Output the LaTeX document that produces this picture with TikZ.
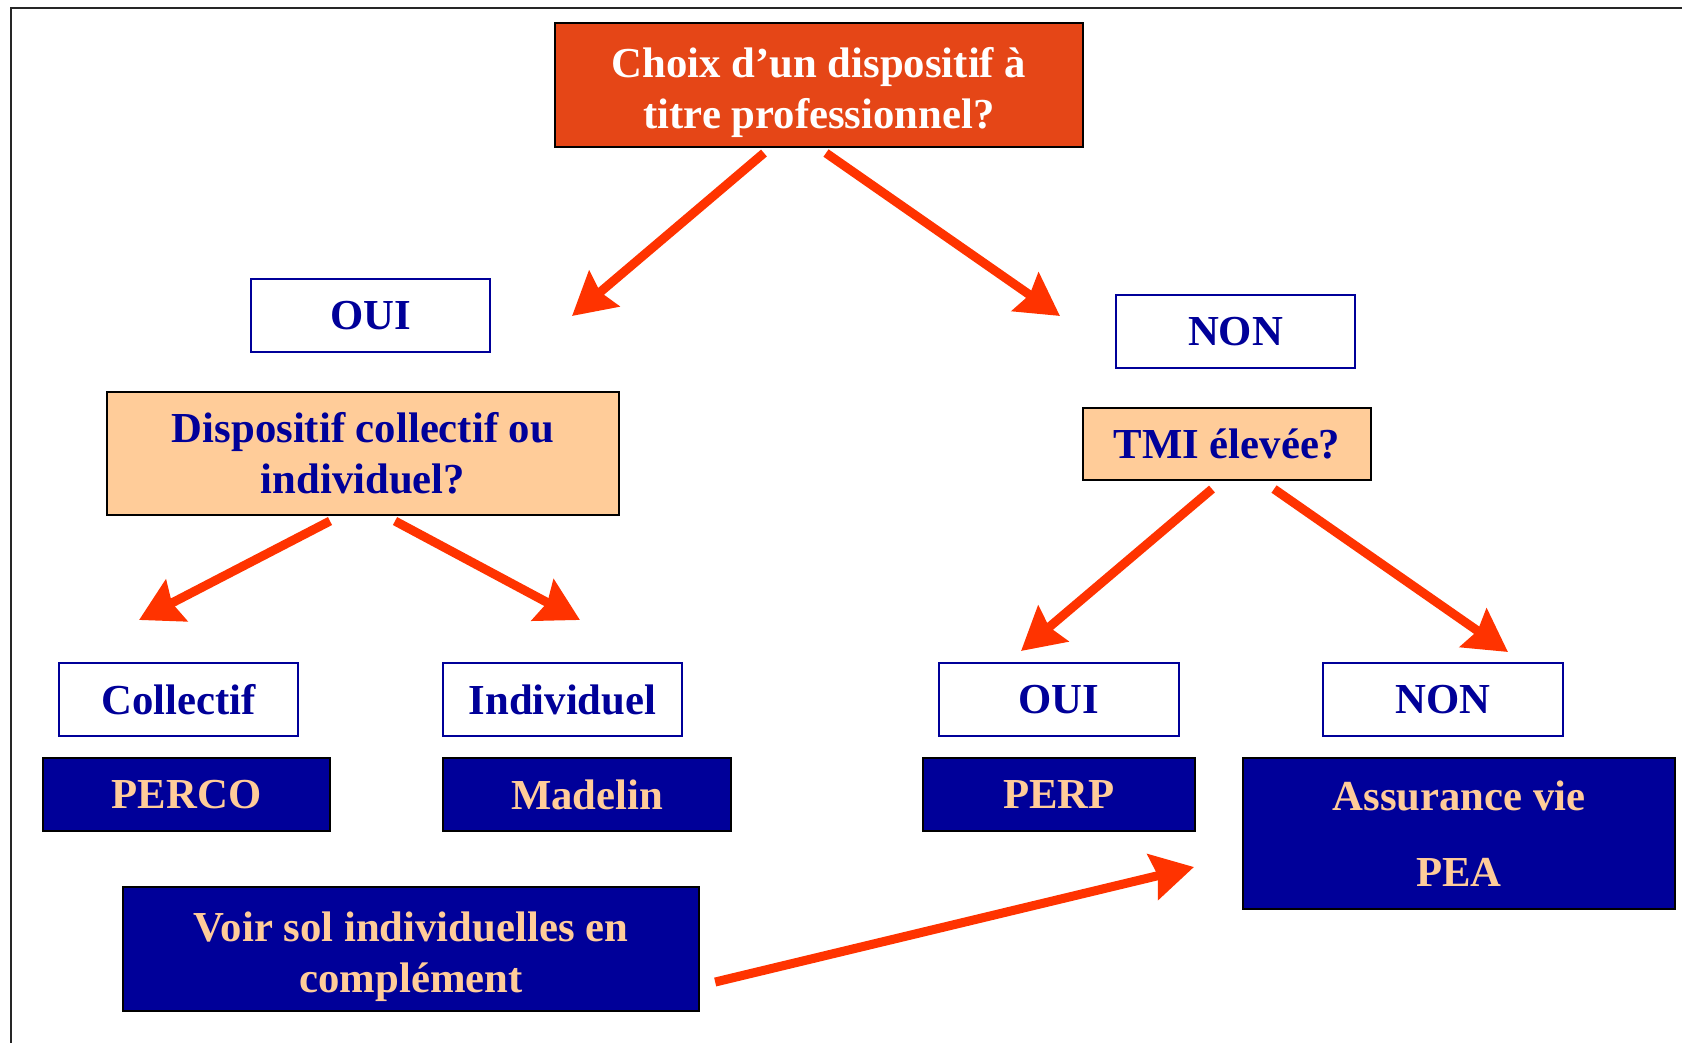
\documentclass[tikz,border=0pt]{standalone}
\usepackage{fontspec}
\setmainfont{Liberation Serif}
\usetikzlibrary{arrows.meta}
\definecolor{rossotitolo}{HTML}{E54617}
\definecolor{pesca}{HTML}{FFCC99}
\definecolor{bluscuro}{HTML}{000099}
\definecolor{rossofreccia}{HTML}{FF3300}

\begin{document}
\begin{tikzpicture}[x=0.01cm, y=-0.01cm, line width=0.02cm,
        font=\fontsize{12.15}{14.4}\selectfont\bfseries,
        box/.style = {draw, inner sep=0pt, align=center},
        titolo/.style = {box, fill=rossotitolo, text=white},
        domanda/.style = {box, fill=pesca, text=bluscuro},
        risposta/.style = {box, draw=bluscuro, fill=white, text=bluscuro, minimum width=2.39cm, minimum height=0.72cm},
        prodotto/.style = {box, fill=bluscuro, text=pesca, minimum height=0.73cm},
        freccia/.style = {draw=rossofreccia, line width=0.09cm, -{Stealth[length=0.42cm, width=0.46cm, inset=0.05cm]}}]
    \clip (0,0) rectangle (1682,1042);
    \draw[black!85] (11,7.5) rectangle (1720,1080);

    % Domande
    \node[titolo, minimum width=5.28cm, minimum height=1.24cm] (choix) at (819,85) {\rule{0pt}{0.45cm}Choix d’un dispositif à\\titre professionnel?};
    \node[domanda, minimum width=5.12cm, minimum height=1.23cm] (dispo) at (363,453.5) {Dispositif collectif ou\\individuel?};
    \node[domanda, minimum width=2.88cm, minimum height=0.72cm] (tmi) at (1227,444) {TMI élevée?};

    % Risposte
    \node[risposta] (oui1) at (370.5,315.5) {OUI};
    \node[risposta] (non1) at (1235.5,331.5) {NON};
    \node[risposta] (coll) at (178.5,699.5) {Collectif};
    \node[risposta] (indiv) at (562.5,699.5) {Individuel};
    \node[risposta] (oui2) at (1059,699.5) {OUI};
    \node[risposta] (non2) at (1443,699.5) {NON};

    % Dispositivi
    \node[prodotto, minimum width=2.87cm] (perco) at (186.5,794.5) {PERCO};
    \node[prodotto, minimum width=2.88cm] (madelin) at (587,794.5) {Madelin};
    \node[prodotto, minimum width=2.72cm] (perp) at (1059,794.5) {PERP};
    \node[prodotto, minimum width=4.32cm, minimum height=1.51cm] (assur) at (1459,833.5) {Assurance vie\\[0.26cm]PEA};
    \node[prodotto, minimum width=5.76cm, minimum height=1.24cm] (voir) at (411,949) {\rule{0pt}{0.45cm}Voir sol individuelles en\\complément};

    % Frecce
    \coordinate (f1) at (572,316);
    \coordinate (f2) at (1060,316);
    \coordinate (f3) at (139,620);
    \coordinate (f4) at (580,620);
    \coordinate (f5) at (1021,651);
    \coordinate (f6) at (1508,652);
    \coordinate (f7) at (1194,867);
    \draw[freccia] ([xshift=-0.55cm, yshift=-0.05cm]choix.south) -- (f1);
    \draw[freccia] ([xshift=0.07cm, yshift=-0.05cm]choix.south) -- (f2);
    \draw[freccia] ([xshift=-0.33cm, yshift=-0.05cm]dispo.south) -- (f3);
    \draw[freccia] ([xshift=0.32cm, yshift=-0.05cm]dispo.south) -- (f4);
    \draw[freccia] ([xshift=-0.15cm, yshift=-0.08cm]tmi.south) -- (f5);
    \draw[freccia] ([xshift=0.47cm, yshift=-0.08cm]tmi.south) -- (f6);
    \draw[freccia] ([xshift=0.15cm, yshift=-0.33cm]voir.east) -- (f7);
\end{tikzpicture}
\end{document}
